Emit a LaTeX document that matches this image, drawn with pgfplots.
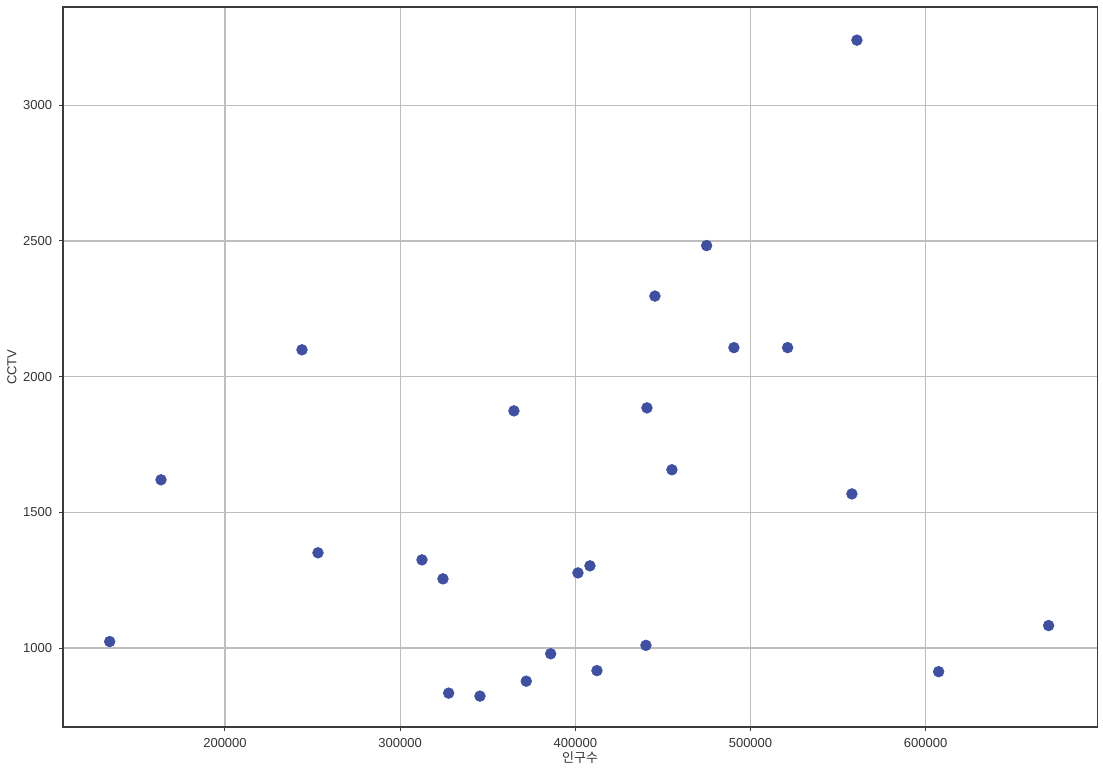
\documentclass[border=0pt]{standalone}
\usepackage{pgfplots}
\pgfplotsset{compat=1.18}
\usepackage{fontspec}
\setmainfont{Liberation Sans}
\newfontfamily\kr{Noto Sans CJK KR}
\definecolor{dotblue}{RGB}{63,80,161}
\definecolor{gridgray}{RGB}{190,190,190}
\definecolor{framegray}{RGB}{60,60,60}
\pgfplotstableread{
x y
134185 1024
163469 1620
243950 2099
253085 1351
312448 1325
324434 1255
327689 834
345554 823
364961 1874
371982 878
385910 979
401492 1277
408342 1303
412338 917
440307 1010
440878 1885
445444 2297
455148 1657
474955 2483
490538 2107
521190 2107
557892 1568
560746 3240
607402 913
670189 1083
}\datatable
\begin{document}
\begin{tikzpicture}
\fontsize{8pt}{9.6pt}\selectfont
\begin{axis}[
  scale only axis,
  width=637pt, height=443pt,
  xmin=107363, xmax=698174,
  ymin=709, ymax=3361,
  xtick={200000,300000,400000,500000,600000},
  ytick={1000,1500,2000,2500,3000},
  scaled ticks=false,
  /pgf/number format/fixed,
  /pgf/number format/1000 sep={},
  /pgf/number format/assume math mode=true,
  tick label style={font=\fontsize{8pt}{9.6pt}\selectfont, text=black!80},
  label style={font=\fontsize{8pt}{9.6pt}\selectfont, text=black!80},
  grid=major,
  major grid style={gridgray, line width=0.8pt},
  axis line style={framegray, line width=1pt},
  tick align=outside,
  major tick length=2.2pt,
  tick style={framegray, line width=0.6pt},
  xtick pos=bottom, ytick pos=left,
  xlabel={\kr 인구수},
  ylabel={CCTV},
  xlabel style={at={(axis description cs:0.5,0)}, anchor=center, yshift=-18.8pt},
  ylabel style={at={(axis description cs:0,0.5)}, anchor=center, yshift=31.2pt},
  xticklabel style={yshift=-2pt},
  yticklabel style={xshift=-1.5pt},
]
\addplot[only marks, mark=*, mark size=3.3pt, mark options={fill=dotblue, draw=dotblue}] table[x=x,y=y] {\datatable};
\end{axis}
\pgfresetboundingbox
\path[use as bounding box] ([xshift=-38.6pt,yshift=-25.7pt]current axis.south west) rectangle ([xshift=3.3pt,yshift=4.5pt]current axis.north east);
\end{tikzpicture}
\end{document}
